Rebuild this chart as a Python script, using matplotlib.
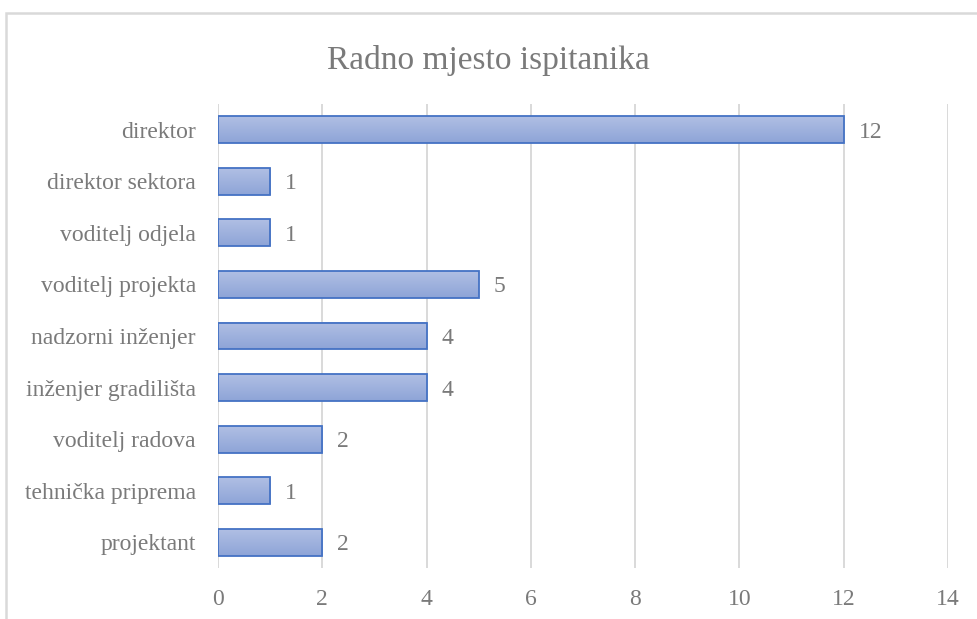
import numpy as np
import matplotlib
matplotlib.use("Agg")
import matplotlib.pyplot as plt
from matplotlib.patches import Rectangle

categories = [
    "direktor",
    "direktor sektora",
    "voditelj odjela",
    "voditelj projekta",
    "nadzorni inženjer",
    "inženjer gradilišta",
    "voditelj radova",
    "tehnička priprema",
    "projektant",
]
counts = [12, 1, 1, 5, 4, 4, 2, 1, 2]
x_ticks = [0, 2, 4, 6, 8, 10, 12, 14]

plt.rcParams["font.family"] = ["Liberation Serif", "DejaVu Serif"]
gray = "#7a7a7a"

W, H = 977, 619
fig = plt.figure(figsize=(W / 100, H / 100), dpi=100)
ax = fig.add_axes([218 / W, 1 - 568 / H, (948 - 218) / W, (568 - 104) / H])

# light blue vertical gradient for the bars
grad = np.linspace(0, 1, 64).reshape(-1, 1)
cmap = matplotlib.colors.LinearSegmentedColormap.from_list("bar", ["#b0bfe4", "#8ea4d7"])

bar_h = 0.52
n = len(categories)
for i, v in enumerate(counts):
    y = n - 1 - i
    ax.imshow(grad, cmap=cmap, aspect="auto", extent=(0, v, y - bar_h / 2, y + bar_h / 2),
              origin="upper", zorder=2, interpolation="bicubic")
    ax.add_patch(Rectangle((0, y - bar_h / 2), v, bar_h, facecolor="none",
                           edgecolor="#4472c4", linewidth=1.3, zorder=3))
    ax.text(v + 0.29, y, str(v), va="center_baseline", ha="left", color=gray, fontsize=17)

ax.set_xlim(0, 14)
ax.set_ylim(-0.5, n - 0.5)
ax.set_xticks(x_ticks)
ax.set_xticklabels([str(t) for t in x_ticks])
ax.set_yticks(range(n))
ax.set_yticklabels(categories[::-1])
ax.tick_params(axis="both", length=0, labelsize=17, labelcolor=gray)
ax.tick_params(axis="x", pad=15)
ax.tick_params(axis="y", pad=16)
for lbl in ax.get_yticklabels():
    lbl.set_verticalalignment("center_baseline")
for s in ax.spines.values():
    s.set_visible(False)
ax.grid(axis="x", color="#d9d9d9", linewidth=1.4, zorder=0)
ax.set_axisbelow(True)

fig.text(0.5, 1 - 57 / H, "Radno mjesto ispitanika", ha="center", va="center_baseline",
         color=gray, fontsize=24)

# chart frame
fig.patches.append(Rectangle((5.5 / W, -0.1), 2, 1.1 - 13.5 / H, transform=fig.transFigure,
                             facecolor="none", edgecolor="#d9d9d9", linewidth=1.8))

fig.savefig("out.png", dpi=100)
